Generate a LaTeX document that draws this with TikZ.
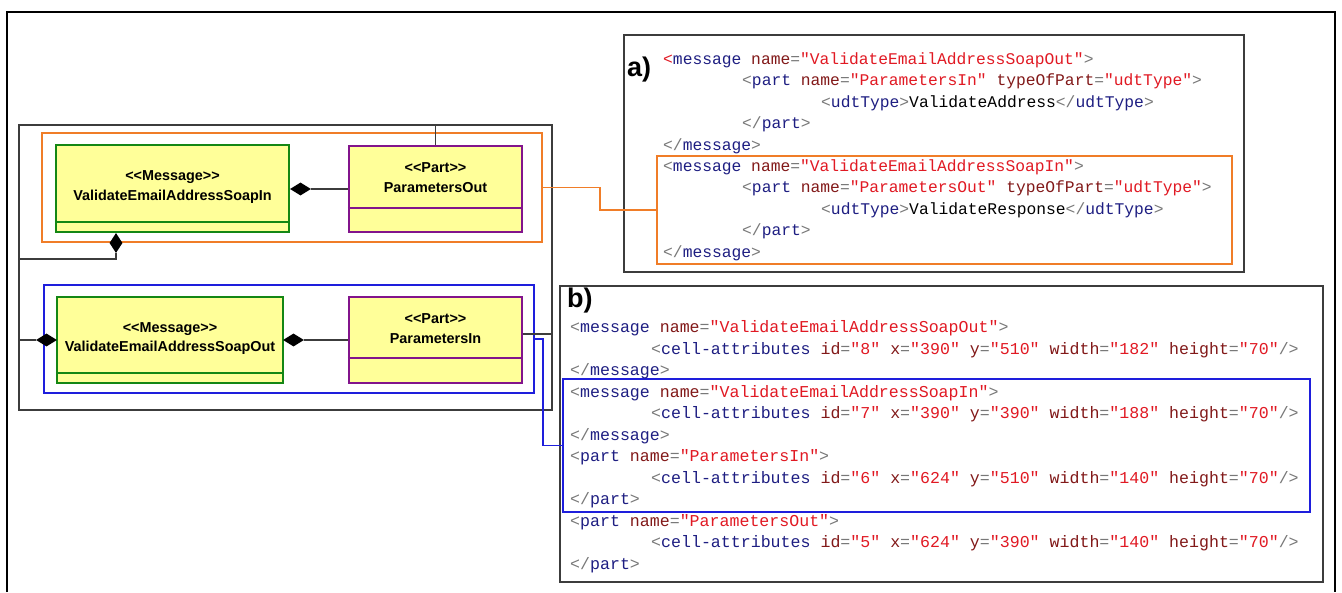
\documentclass[tikz,border=0pt]{standalone}
\usepackage{fontspec}
\setmonofont{Liberation Mono}
\newfontfamily\umlfont{Liberation Sans}
\usetikzlibrary{shapes.geometric}
\definecolor{tagc}{RGB}{30,30,130}
\definecolor{attc}{RGB}{130,25,25}
\definecolor{valc}{RGB}{225,25,35}
\definecolor{punc}{RGB}{120,120,120}
\definecolor{umlgreen}{RGB}{20,135,20}
\definecolor{umlpurple}{RGB}{130,20,140}
\definecolor{umlfill}{RGB}{255,255,153}
\definecolor{orangec}{RGB}{240,125,40}
\definecolor{bluec}{RGB}{30,30,220}
\definecolor{framec}{RGB}{60,60,60}
\newcommand\XL{\textcolor{punc}{<}}
\newcommand\XR{\textcolor{punc}{>}}
\newcommand\XC{\textcolor{punc}{</}}
\newcommand\XE{\textcolor{punc}{/>}}
\newcommand\XT[1]{\textcolor{tagc}{#1}}
\newcommand\XA[2]{\textcolor{attc}{#1}\textcolor{punc}{=}\textcolor{valc}{"#2"}}
\newcommand\XCell[5]{\XL\XT{cell-attributes} \XA{id}{#1} \XA{x}{#2} \XA{y}{#3} \XA{width}{#4} \XA{height}{#5}\XE}
\begin{document}
\begin{tikzpicture}[x=1pt,y=-1pt,
  gline/.style={draw=framec, line width=1.3pt},
  msgbox/.style={rectangle, draw=umlgreen, fill=umlfill, line width=2.2pt, inner sep=0pt},
  partbox/.style={rectangle, draw=umlpurple, fill=umlfill, line width=2.2pt, inner sep=0pt},
  hdia/.style={diamond, fill=black, inner sep=0pt, minimum width=21pt, minimum height=13pt},
  vdia/.style={diamond, fill=black, inner sep=0pt, minimum width=13pt, minimum height=20pt},
  umltext/.style={font=\umlfont\bfseries\fontsize{14.4}{16}\selectfont, anchor=base, inner sep=0pt},
  codea/.style={anchor=base west, inner sep=0pt, font=\ttfamily\fontsize{16.3}{18}\selectfont},
  codeb/.style={anchor=base west, inner sep=0pt, font=\ttfamily\fontsize{16.6}{18}\selectfont},
  panel/.style={rectangle, draw=framec, line width=1.6pt, inner sep=0pt},
  obox/.style={rectangle, draw=orangec, line width=1.8pt, inner sep=0pt},
  bbox/.style={rectangle, draw=bluec, line width=1.5pt, inner sep=0pt},
  lbl/.style={font=\umlfont\bfseries\fontsize{27}{29}\selectfont, anchor=base west, inner sep=0pt}]
\useasboundingbox (0,0) rectangle (1342,592);
\fill[white] (0,0) rectangle (1342,592);
% outer frame
\draw[black, line width=2.5pt] (7,592) -- (7,12) -- (1335,12) -- (1335,592);

% ---- left UML diagram ----
\node[panel, minimum width=533pt, minimum height=285pt] (frame) at (285.5,267.5) {};
\node[obox, minimum width=500pt, minimum height=109pt] (orect) at (292,187.5) {};
\node[bbox, minimum width=490pt, minimum height=108pt] (brect) at (289,339) {};

\node[msgbox, minimum width=233pt, minimum height=87pt] (m1) at (172.5,188.5) {};
\draw[umlgreen, line width=2.2pt] (m1.west |- 0,222) -- (m1.east |- 0,222);
\node[umltext] (m1s) at (172.5,180) {<\kern0pt<Message>\kern0pt>};
\node[umltext] (m1n) at (172.5,200) {ValidateEmailAddressSoapIn};

\node[partbox, minimum width=173pt, minimum height=86pt] (p1) at (435.5,189) {};
\draw[umlpurple, line width=2.2pt] (p1.west |- 0,208) -- (p1.east |- 0,208);
\node[umltext] (p1s) at (435.5,172) {<\kern0pt<Part>\kern0pt>};
\node[umltext] (p1n) at (435.5,192) {ParametersOut};

\node[msgbox, minimum width=226pt, minimum height=86pt] (m2) at (170,340) {};
\draw[umlgreen, line width=2.2pt] (m2.west |- 0,373) -- (m2.east |- 0,373);
\node[umltext] (m2s) at (170,332) {<\kern0pt<Message>\kern0pt>};
\node[umltext] (m2n) at (170,351) {ValidateEmailAddressSoapOut};

\node[partbox, minimum width=173pt, minimum height=86pt] (p2) at (435.5,340) {};
\draw[umlpurple, line width=2.2pt] (p2.west |- 0,358) -- (p2.east |- 0,358);
\node[umltext] (p2s) at (435.5,323) {<\kern0pt<Part>\kern0pt>};
\node[umltext] (p2n) at (435.5,343) {ParametersIn};

\node[hdia] (d1) at (300.5,189) {};
\node[vdia] (d2) at (116,243) {};
\node[hdia] (d3) at (46.5,340) {};
\node[hdia] (d4) at (293.5,340) {};

\draw[gline] (d1.east) -- (p1.west);
\draw[gline] (p1.north) -- (p1.north |- frame.north);
\coordinate (c1) at (frame.west |- 0,259);
\draw[gline] (d2.south) |- (c1);
\draw[gline] (frame.west |- d3.west) -- (d3.west);
\draw[gline] (d4.east) -- (p2.west);
\coordinate (p2o) at ([yshift=6pt]p2.east);
\draw[gline] (p2o) -- (p2o -| frame.east);

% ---- panel a ----
\node[panel, minimum width=620pt, minimum height=237pt] (boxa) at (934,153.5) {};
\node[obox, minimum width=575pt, minimum height=108pt] (oa) at (944.5,210) {};
\node[lbl] (la) at (627,76) {a)};
\node[codea] (a1) at (663,64.4) {\textcolor{valc}{<}\XT{message} \XA{name}{ValidateEmailAddressSoapOut}\XR};
\node[codea] (a2) at (742,85.8) {\XL\XT{part} \XA{name}{ParametersIn} \XA{typeOfPart}{udtType}\XR};
\node[codea] (a3) at (821,107.2) {\XL\XT{udtType}\XR ValidateAddress\XC\XT{udtType}\XR};
\node[codea] (a4) at (742,128.6) {\XC\XT{part}\XR};
\node[codea] (a5) at (663,150.0) {\XC\XT{message}\XR};
\node[codea] (a6) at (663,171.4) {\XL\XT{message} \XA{name}{ValidateEmailAddressSoapIn}\XR};
\node[codea] (a7) at (742,192.8) {\XL\XT{part} \XA{name}{ParametersOut} \XA{typeOfPart}{udtType}\XR};
\node[codea] (a8) at (821,214.2) {\XL\XT{udtType}\XR ValidateResponse\XC\XT{udtType}\XR};
\node[codea] (a9) at (742,235.6) {\XC\XT{part}\XR};
\node[codea] (a10) at (663,257.0) {\XC\XT{message}\XR};

% ---- panel b ----
\node[panel, minimum width=763pt, minimum height=296pt] (boxb) at (941.5,434) {};
\node[bbox, minimum width=747pt, minimum height=133pt] (bb) at (936.5,445.5) {};
\node[lbl] (lb) at (567,307) {b)};
\node[codeb] (b1) at (570,332.7) {\XL\XT{message} \XA{name}{ValidateEmailAddressSoapOut}\XR};
\node[codeb] (b2) at (651,354.2) {\XCell{8}{390}{510}{182}{70}};
\node[codeb] (b3) at (570,375.7) {\XC\XT{message}\XR};
\node[codeb] (b4) at (570,397.2) {\XL\XT{message} \XA{name}{ValidateEmailAddressSoapIn}\XR};
\node[codeb] (b5) at (651,418.7) {\XCell{7}{390}{390}{188}{70}};
\node[codeb] (b6) at (570,440.2) {\XC\XT{message}\XR};
\node[codeb] (b7) at (570,461.7) {\XL\XT{part} \XA{name}{ParametersIn}\XR};
\node[codeb] (b8) at (651,483.2) {\XCell{6}{624}{510}{140}{70}};
\node[codeb] (b9) at (570,504.7) {\XC\XT{part}\XR};
\node[codeb] (b10) at (570,526.2) {\XL\XT{part} \XA{name}{ParametersOut}\XR};
\node[codeb] (b11) at (651,547.7) {\XCell{5}{624}{390}{140}{70}};
\node[codeb] (b12) at (570,569.2) {\XC\XT{part}\XR};

% ---- highlight connectors ----
\draw[draw=orangec, line width=1.8pt] (orect.east) -- ++(57,0) |- (oa.west);
\draw[draw=bluec, line width=1.5pt] (brect.east) -- ++(8,0) |- (bb.west);
\end{tikzpicture}
\end{document}
